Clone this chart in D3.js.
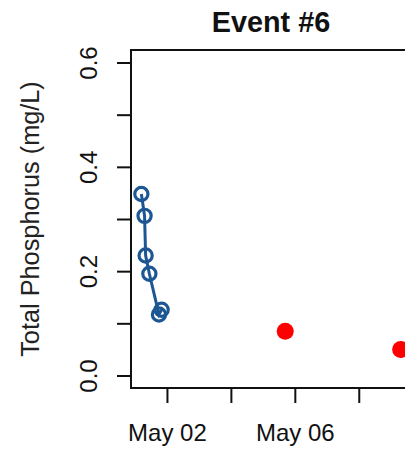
<!DOCTYPE html>
<html>
<head>
<meta charset="utf-8">
<script src="https://cdn.jsdelivr.net/npm/d3@7"></script>
<style>
  html, body { margin: 0; padding: 0; background: #fff; }
  svg { display: block; font-family: "Liberation Sans", Arial, sans-serif; }
</style>
</head>
<body>
<svg id="chart" width="405" height="450"></svg>
<script>
// Event #6 storm samples: total phosphorus over time
const title = "Event #6";
const yLabel = "Total Phosphorus (mg/L)";

// Storm-flow samples (connected, open circles)
const stormTimes = ["2024-05-01T04:48", "2024-05-01T07:12", "2024-05-01T08:00",
                    "2024-05-01T10:48", "2024-05-01T18:00", "2024-05-01T20:00"];
const stormTP = [0.348, 0.306, 0.230, 0.195, 0.117, 0.126];

// Base-flow samples (filled circles)
const baseTimes = ["2024-05-05T16:48", "2024-05-09T07:26"];
const baseTP = [0.085, 0.050];

// Axis ticks and labels
const xTicks = ["2024-05-02", "2024-05-04", "2024-05-06", "2024-05-08"];
const xTickLabels = ["May 02", "", "May 06", ""];
const yTicks = [0, 0.1, 0.2, 0.3, 0.4, 0.5, 0.6];
const yTickLabels = ["0.0", "", "0.2", "", "0.4", "", "0.6"];

const parse = d3.utcParse("%Y-%m-%dT%H:%M");
const parseDay = d3.utcParse("%Y-%m-%d");

const storm = stormTimes.map((t, i) => ({ t: parse(t), v: stormTP[i] }));
const base = baseTimes.map((t, i) => ({ t: parse(t), v: baseTP[i] }));

const plot = { left: 131, right: 411, top: 50, bottom: 388 };

// 4% padding around the data range on both axes
const allT = storm.concat(base).map(d => +d.t);
const tMin = d3.min(allT), tMax = d3.max(allT);
const tPad = (tMax - tMin) * 0.04;
const x = d3.scaleUtc()
  .domain([new Date(tMin - tPad), new Date(tMax + tPad)])
  .range([plot.left, plot.right]);

const yPad = 0.6 * 0.04;
const y = d3.scaleLinear()
  .domain([-yPad, 0.6 + yPad])
  .range([plot.bottom, plot.top]);

const svg = d3.select("#chart");
const ink = "#111";

// Plot frame
svg.append("rect")
  .attr("x", plot.left).attr("y", plot.top)
  .attr("width", plot.right - plot.left).attr("height", plot.bottom - plot.top)
  .attr("fill", "none").attr("stroke", ink).attr("stroke-width", 2);

// Y axis
const yAxis = d3.axisLeft(y)
  .tickValues(yTicks)
  .tickSize(14)
  .tickFormat((d, i) => yTickLabels[i]);
const gy = svg.append("g").attr("transform", `translate(${plot.left},0)`).call(yAxis);
gy.select(".domain").remove();
gy.selectAll(".tick line").attr("stroke", ink).attr("stroke-width", 2);
gy.selectAll(".tick text")
  .attr("fill", ink)
  .style("font-size", "24px")
  .attr("x", null).attr("dy", null)
  .attr("text-anchor", "middle")
  .attr("transform", "translate(-34,0) rotate(-90)");

// X axis
const xAxis = d3.axisBottom(x)
  .tickValues(xTicks.map(parseDay))
  .tickSize(15)
  .tickFormat((d, i) => xTickLabels[i]);
const gx = svg.append("g").attr("transform", `translate(0,${plot.bottom})`).call(xAxis);
gx.select(".domain").remove();
gx.selectAll(".tick line").attr("stroke", ink).attr("stroke-width", 2);
gx.selectAll(".tick text")
  .attr("fill", ink)
  .style("font-size", "24px")
  .attr("y", 53).attr("dy", null);

// Storm samples line and open circles
const blue = "#1c5794";
svg.append("path")
  .datum(storm.slice().sort((a, b) => a.t - b.t))
  .attr("d", d3.line().x(d => x(d.t)).y(d => y(d.v)))
  .attr("fill", "none").attr("stroke", blue).attr("stroke-width", 3);

svg.selectAll("circle.storm").data(storm).join("circle")
  .attr("class", "storm")
  .attr("cx", d => x(d.t)).attr("cy", d => y(d.v)).attr("r", 6.6)
  .attr("fill", "none").attr("stroke", blue).attr("stroke-width", 3.2);

// Base-flow samples
svg.selectAll("circle.base").data(base).join("circle")
  .attr("class", "base")
  .attr("cx", d => x(d.t)).attr("cy", d => y(d.v)).attr("r", 8.5)
  .attr("fill", "#ff0000");

// Title and y-axis label
svg.append("text")
  .attr("x", (plot.left + plot.right) / 2).attr("y", 32)
  .attr("text-anchor", "middle")
  .style("font-size", "28.8px").style("font-weight", "bold")
  .attr("fill", ink)
  .text(title);

svg.append("text")
  .attr("transform", `translate(39,${(plot.top + plot.bottom) / 2}) rotate(-90)`)
  .attr("text-anchor", "middle")
  .style("font-size", "25.3px")
  .attr("fill", "#222")
  .text(yLabel);
</script>
</body>
</html>
